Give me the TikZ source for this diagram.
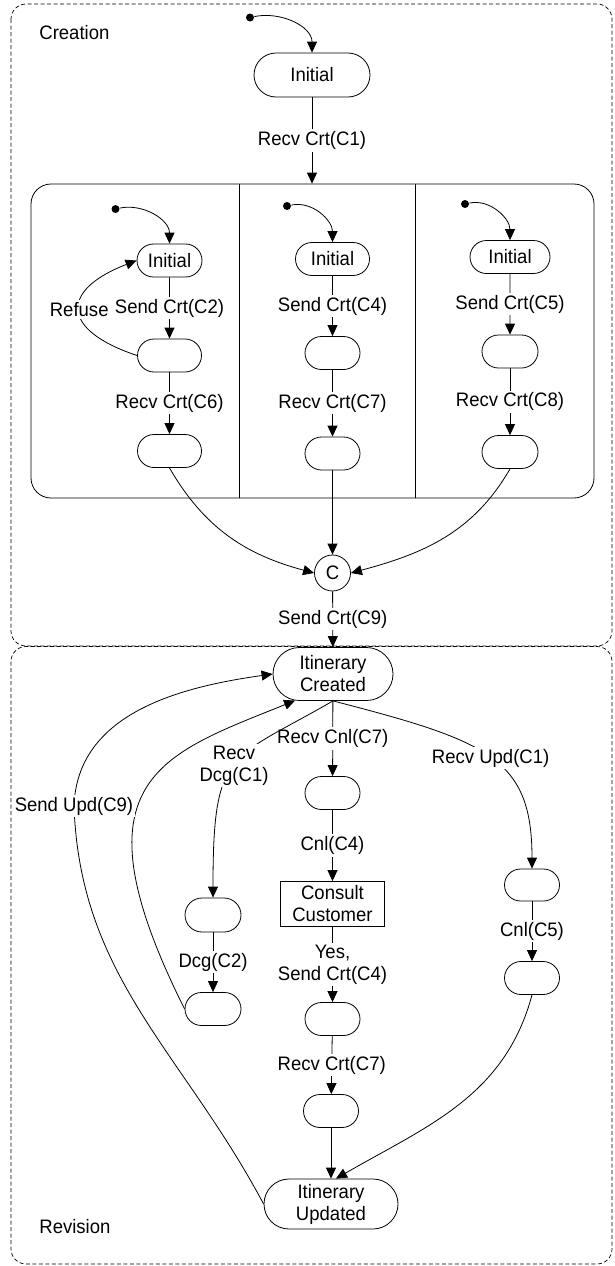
\documentclass[tikz,border=0pt]{standalone}
\usepackage{fontspec}
\setmainfont{Liberation Sans}[FakeStretch=0.95]
\usetikzlibrary{shapes.misc,arrows.meta}
\begin{document}
\begin{tikzpicture}[x=1pt,y=1pt,line width=0.8pt,
  font=\fontsize{19.5}{22}\selectfont,
  state/.style={draw, rounded rectangle, minimum height=33pt, minimum width=56pt, inner sep=0pt, align=center},
  lbl/.style={fill=white, inner sep=2pt, align=center},
  arr/.style={-{Triangle[length=11pt,width=10pt]}},
  startdot/.style={circle, fill, inner sep=0pt, minimum size=8pt},
  area/.style={draw, dash pattern=on 4pt off 2.5pt, rounded corners=15pt, line width=0.7pt}
  ]
\useasboundingbox (0,0) rectangle (614,-1266);

% outer dashed regions
\draw[area] (11,-4) rectangle (612,-646);
\draw[area] (11,-646.5) rectangle (612,-1264);
\node[anchor=west, inner sep=0pt] (creat) at (39,-33) {Creation};
\node[anchor=west, inner sep=0pt] (revis) at (39,-1227) {Revision};

% top
\node[startdot] (d0) at (250,-17.5) {};
\node[state, minimum width=116pt, minimum height=44pt] (i0) at (312,-75) {Initial};
\draw[arr] (d0) to[out=12,in=90] (i0.north);

% parallel container
\node[draw, rounded corners=20pt, minimum width=563pt, minimum height=314pt, inner sep=0pt] (par) at (312.5,-341) {};
\draw (239,-184) -- (239,-498);
\draw (415,-184) -- (415,-498);
\draw[arr] (i0.south) -- node[lbl]{Recv Crt(C1)} (i0.south |- par.north);

% column 1
\node[startdot] (a0) at (115.5,-209) {};
\node[state, minimum width=65pt] (a1) at (169.5,-260.5) {Initial};
\node[state, minimum width=64pt] (a2) at (169.5,-355.5) {};
\node[state, minimum width=64pt] (a3) at (169.5,-451) {};
\draw[arr] (a0) to[out=12,in=90] (a1.north);
\draw[arr] (a1) -- node[lbl]{Send Crt(C2)} (a2);
\draw[arr] (a2) -- node[lbl]{Recv Crt(C6)} (a3);
\draw[arr] (a2.west) .. controls (60,-330) and (60,-290) .. node[lbl,pos=0.5]{Refuse} (a1.west);

% column 2
\node[startdot] (b0) at (287,-206) {};
\node[state, minimum width=74pt] (b1) at (332.5,-259) {Initial};
\node[state, minimum width=55pt] (b2) at (332.5,-353) {};
\node[state, minimum width=55pt] (b3) at (332.5,-453.5) {};
\draw[arr] (b0) to[out=12,in=90] (b1.north);
\draw[arr] (b1) -- node[lbl]{Send Crt(C4)} (b2);
\draw[arr] (b2) -- node[lbl]{Recv Crt(C7)} (b3);

% column 3
\node[startdot] (c0) at (465,-204) {};
\node[state, minimum width=80pt] (c1) at (510,-257) {Initial};
\node[state, minimum width=56pt] (c2) at (510,-351.5) {};
\node[state, minimum width=56pt] (c3) at (510,-452) {};
\draw[arr] (c0) to[out=12,in=90] (c1.north);
\draw[arr] (c1) -- node[lbl]{Send Crt(C5)} (c2);
\draw[arr] (c2) -- node[lbl]{Recv Crt(C8)} (c3);

% join
\node[circle, draw, minimum size=36pt, inner sep=0pt] (C) at (332.5,-573) {C};
\draw[arr] (a3.south) to[out=-60,in=165] (C.west);
\draw[arr] (b3) -- (C);
\draw[arr] (c3.south) to[out=-120,in=15] (C.east);

% revision
\node[state, minimum width=120pt, minimum height=53pt] (ic) at (333,-674) {Itinerary\\Created};
\draw[arr] (C) -- node[lbl]{Send Crt(C9)} (ic);

\node[state, minimum width=55pt] (m1) at (332.5,-793) {};
\node[draw, minimum width=104pt, minimum height=45pt, inner sep=1pt, align=center] (cc) at (332.5,-904) {Consult\\Customer};
\node[state, minimum width=55pt] (m2) at (332.5,-1019) {};
\node[state, minimum width=55pt] (m3) at (331,-1111) {};
\node[state, minimum width=134pt, minimum height=50pt] (iu) at (331,-1204) {Itinerary\\Updated};

\node[state, minimum width=56pt, minimum height=34pt] (d1) at (213,-915) {};
\node[state, minimum width=56pt] (d2) at (213,-1009) {};

\node[state, minimum width=55pt, minimum height=32pt] (u1) at (532,-885) {};
\node[state, minimum width=55pt] (u2) at (532,-978) {};

\draw[arr] (ic) -- node[lbl]{Recv Cnl(C7)} (m1);
\draw[arr] (m1) -- node[lbl]{Cnl(C4)} (cc);
\draw[arr] (cc) -- node[lbl]{Yes,\\Send Crt(C4)} (m2);
\draw[arr] (m2) -- node[lbl]{Recv Crt(C7)} (m3);
\draw[arr] (m3) -- (iu);

\draw[arr] (ic.south) .. controls (229,-761) and (213,-748) .. node[lbl,pos=0.5]{Recv\\Dcg(C1)} (d1.north);
\draw[arr] (d1) -- node[lbl]{Dcg(C2)} (d2);
\draw[arr] (d2.west) .. controls (70,-780) and (160,-755) .. (ic.-145);

\draw[arr] (ic.south) .. controls (488,-741) and (532,-758) .. node[lbl,pos=0.5]{Recv Upd(C1)} (u1.north);
\draw[arr] (u1) -- node[lbl]{Cnl(C5)} (u2);
\draw[arr] (u2.south) to[out=-105,in=30] ([xshift=5pt]iu.north);

\coordinate (su) at (74,-806);
\draw[arr] (iu.west) to[out=118,in=-88] (su) to[out=88,in=188] (ic.west);
\node[lbl] (sul) at (su) {Send Upd(C9)};
\end{tikzpicture}
\end{document}
